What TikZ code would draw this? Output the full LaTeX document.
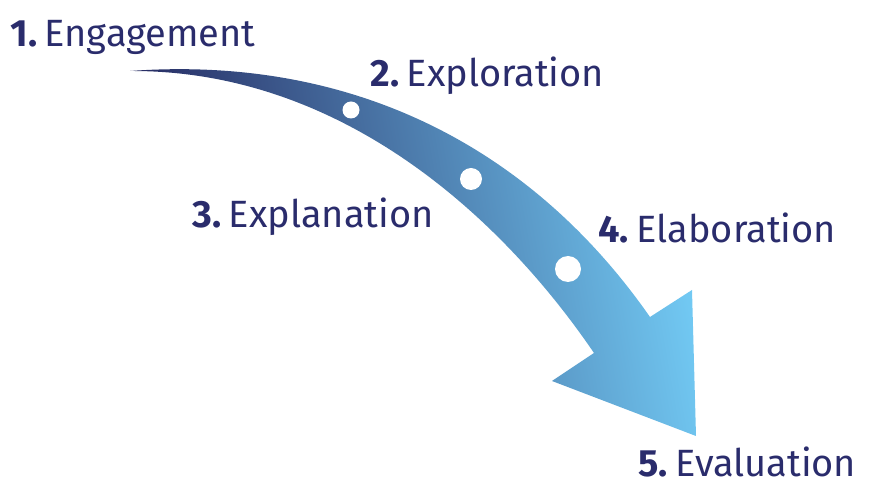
\documentclass[tikz,border=0pt]{standalone}
\usepackage{fontspec}
\setmainfont{Fira Sans}
\usepackage{tikz}
\usetikzlibrary{calc}
\definecolor{navytext}{HTML}{2A2C6C}
\definecolor{arrowdark}{HTML}{23245C}
\definecolor{arrowmid}{HTML}{345A94}
\definecolor{arrowlight}{HTML}{72CAF4}
\tikzstyle{stage} = [anchor=base west, inner sep=0pt, text=navytext, font=\fontsize{19}{23}\selectfont]
\tikzstyle{dot} = [circle, fill=white, inner sep=0pt]

\begin{document}
\begin{tikzpicture}[x=0.5pt, y=-0.5pt]
  \useasboundingbox (0,0) rectangle (869,486);

  % the bent arrow
  \shade[left color=arrowdark, middle color=arrowmid, right color=arrowlight, shading angle=100]
    (130,71) .. controls (350,55) and (530,145) .. (650,317)
    -- (692,290) -- (696,436) -- (552,381) -- (594,353)
    .. controls (500,215) and (340,70) .. (130,71) -- cycle;

  \node (d1) [dot, minimum size=8.5pt] at (351,110) {};
  \node (d2) [dot, minimum size=11pt] at (471,179) {};
  \node (d3) [dot, minimum size=13pt] at (568,269) {};

  \node (1) [stage] at (10,47) {\textbf{1.}\hspace{0.2em}Engagement};
  \node (2) [stage] at (370,87) {\textbf{2.}\hspace{0.2em}Exploration};
  \node (3) [stage] at (192,228) {\textbf{3.}\hspace{0.2em}Explanation};
  \node (4) [stage] at (598,243) {\textbf{4.}\hspace{0.2em}Elaboration};
  \node (5) [stage] at (638,477) {\textbf{5.}\hspace{0.2em}Evaluation};
\end{tikzpicture}
\end{document}
